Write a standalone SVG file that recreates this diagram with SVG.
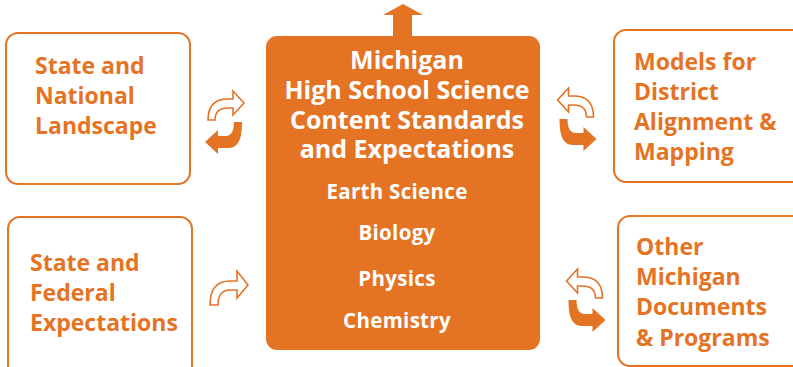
<svg xmlns="http://www.w3.org/2000/svg" width="793" height="367" viewBox="0 0 793 367">
<style>
.box{fill:#fff;stroke:#E57324;stroke-width:2}
.side{font-family:"Open Sans",Lato,sans-serif;font-weight:bold;font-size:23px;fill:#E57324}
.title{font-family:"Open Sans",Lato,sans-serif;font-weight:bold;font-size:25px;fill:#fff;text-anchor:middle}
.sub{font-family:"Open Sans",Lato,sans-serif;font-weight:bold;font-size:20.5px;letter-spacing:0.3px;fill:#fff;text-anchor:middle}
.outl{fill:#fff;stroke:#E57324;stroke-width:1.6;stroke-linejoin:miter}
.fill{fill:#E57324;stroke:none}
</style>
<defs>
<g id="cycle">
<path class="outl" d="M 208 120 C 208 106, 215 99, 228 99 L 233 99 L 233 91 L 244 103 L 233 115 L 233 108 L 228 108 C 219 108, 215 112, 215 120 Z"/>
<path class="fill" d="M 234 122 C 234 131, 231 136, 226 136 L 218 136 L 218 130 L 205 142 L 218 154 L 218 148 L 228 148 C 238 148, 242 140, 242 122 Z"/>
</g>
</defs>
<g id="node-state-national">
<rect class="box" x="6" y="33" width="184" height="151" rx="12"/>
<text class="side" x="35" y="74">State and</text>
<text class="side" x="35" y="104">National</text>
<text class="side" x="35" y="134">Landscape</text>
</g>
<g id="node-state-federal">
<rect class="box" x="8" y="217" width="184" height="165" rx="12"/>
<text class="side" x="30" y="271">State and</text>
<text class="side" x="30" y="301">Federal</text>
<text class="side" x="30" y="331">Expectations</text>
</g>
<g id="node-models">
<rect class="box" x="614" y="30" width="195" height="152" rx="12"/>
<text class="side" x="634" y="70">Models for</text>
<text class="side" x="634" y="100">District</text>
<text class="side" x="634" y="130">Alignment &amp;</text>
<text class="side" x="634" y="160">Mapping</text>
</g>
<g id="node-other">
<rect class="box" x="618" y="216" width="195" height="150" rx="12"/>
<text class="side" x="636" y="255">Other</text>
<text class="side" x="636" y="285">Michigan</text>
<text class="side" x="636" y="315">Documents</text>
<text class="side" x="636" y="346">&amp; Programs</text>
</g>
<g id="node-center">
<rect x="266" y="36" width="274" height="314" rx="11" fill="#E57324"/>
<text class="title" x="407" y="69">Michigan</text>
<text class="title" x="407" y="99">High School Science</text>
<text class="title" x="407" y="129">Content Standards</text>
<text class="title" x="407" y="158">and Expectations</text>
<text class="sub" x="397" y="199">Earth Science</text>
<text class="sub" x="397" y="240">Biology</text>
<text class="sub" x="397" y="286">Physics</text>
<text class="sub" x="397" y="328">Chemistry</text>
</g>
<g id="connectors">
<path class="fill" d="M 403 4 L 423 15 L 412 15 L 412 37 L 393 37 L 393 15 L 383 15 Z"/>
<use href="#cycle"/>
<use href="#cycle" transform="translate(801.5,-3) scale(-1,1)"/>
<use href="#cycle" transform="translate(810.5,178) scale(-1,1)"/>
<path class="outl" d="M 210 305 C 210 289, 217 281, 230 281 L 237 281 L 237 271 L 248 285 L 237 298 L 237 290 L 230 290 C 221 290, 218 296, 218 305 Z"/>
</g>
</svg>
